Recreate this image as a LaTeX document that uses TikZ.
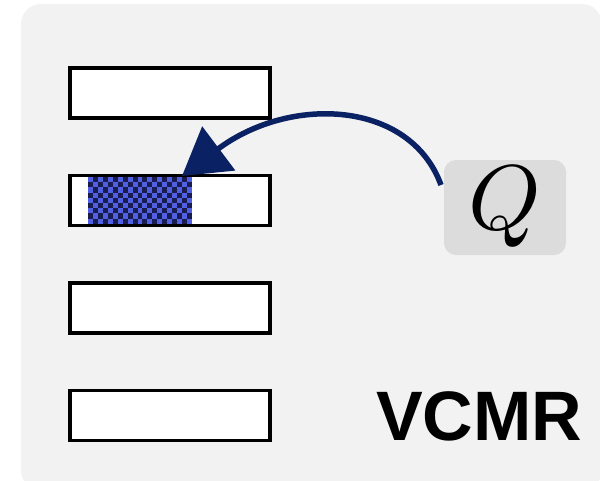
\documentclass[tikz,border=0pt]{standalone}
\usepackage{fontspec}
\setsansfont{Liberation Sans}
\usetikzlibrary{arrows.meta}
\definecolor{panelgray}{RGB}{242,242,242}
\definecolor{querygray}{RGB}{220,220,220}
\definecolor{navy}{RGB}{10,34,100}
\definecolor{checkblue}{RGB}{80,96,225}
\definecolor{checkdark}{RGB}{24,28,80}
\tikzset{
  slot/.style={draw=black, line width=3.8pt, fill=white, minimum width=200pt,
    minimum height=50pt, inner sep=0pt},
  querybox/.style={fill=querygray, rounded corners=12pt, minimum width=122pt,
    minimum height=95pt, inner sep=0pt},
  pointer/.style={draw=navy, line width=5.5pt,
    -{Triangle[length=46pt,width=54pt]}},
}
\begin{document}
\begin{tikzpicture}[x=1pt,y=-1pt]
  \useasboundingbox (0,0) rectangle (600,480);
  % panel
  \fill[panelgray, rounded corners=20pt] (21,4) rectangle (602,490);
  % moment slots
  \node[slot] (s1) at (170,93) {};
  \node[slot] (s2) at (170,200.5) {};
  \node[slot] (s3) at (170,308) {};
  \node[slot] (s4) at (170,415.5) {};
  % highlighted moment (checkered)
  \fill[checkblue] (88,177) rectangle (192,224);
  \foreach \i in {0,...,20}{
    \foreach \j in {0,...,8}{
      \pgfmathtruncatemacro{\odd}{mod(\i+\j,2)}
      \ifnum\odd=1
        \fill[checkdark] (88+4.95*\i,177+5.2*\j) rectangle ++(4.95,5.2);
      \fi
    }
  }
  % query
  \node[querybox] (q) at (505,207.5) {\scalebox{9.2}{$Q$}};
  \coordinate (src) at (441,185);
  \coordinate (hit) at (182,176);
  \draw[pointer] (src) .. controls (410,100) and (290,95) .. (hit);
  % label
  \node[anchor=base west, inner sep=0pt, font=\sffamily\bfseries\fontsize{70}{80}\selectfont]
    (lbl) at (376,440) {VCMR};
\end{tikzpicture}
\end{document}
